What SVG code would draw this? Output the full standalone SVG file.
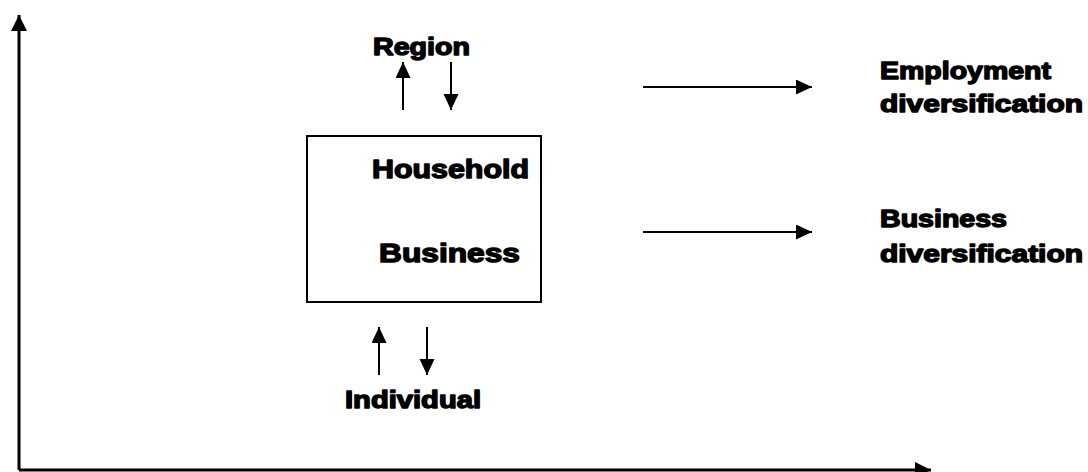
<svg xmlns="http://www.w3.org/2000/svg" width="1088" height="472" viewBox="0 0 1088 472">
  <style>
    .lbl { font-family: "Liberation Sans", Arial, sans-serif; font-weight: bold; fill: #000; stroke: #000; stroke-width: 1.4; stroke-linejoin: round; }
    .side { font-size: 24px; }
    .inner { font-size: 26px; }
    .ln { stroke: #000; stroke-width: 2; fill: none; }
    .axis { stroke: #000; stroke-width: 3; fill: none; }
    .box { fill: #fff; stroke: #000; stroke-width: 2; }
  </style>
  <defs>
    <marker id="head" markerUnits="userSpaceOnUse" markerWidth="18" markerHeight="16" refX="16" refY="7.5" orient="auto">
      <path d="M0,0 L16,7.5 L0,15 Z" fill="#000"/>
    </marker>
    <marker id="axisHead" markerUnits="userSpaceOnUse" markerWidth="18" markerHeight="16" refX="16" refY="8" orient="auto">
      <path d="M0,0 L16,8 L0,16 Z" fill="#000"/>
    </marker>
  </defs>
  <rect width="1088" height="472" fill="#fff"/>

  <g id="connectors">
    <!-- axes -->
    <path class="axis" d="M19,470 L19,15" marker-end="url(#axisHead)"/>
    <path class="axis" d="M19,470 L931,470" marker-end="url(#axisHead)"/>
    <!-- region exchange -->
    <path class="ln" d="M403,110 L403,62" marker-end="url(#head)"/>
    <path class="ln" d="M451,62 L451,110" marker-end="url(#head)"/>
    <!-- individual exchange -->
    <path class="ln" d="M379,375 L379,327" marker-end="url(#head)"/>
    <path class="ln" d="M427,327 L427,375" marker-end="url(#head)"/>
    <!-- outcomes -->
    <path class="ln" d="M643,87 L812,87" marker-end="url(#head)"/>
    <path class="ln" d="M643,232 L812,232" marker-end="url(#head)"/>
  </g>

  <g id="household-business">
    <rect class="box" x="307" y="136" width="234" height="166"/>
    <text class="lbl inner" x="372" y="178" textLength="157" lengthAdjust="spacingAndGlyphs">Household</text>
    <text class="lbl inner" x="379" y="262" textLength="141" lengthAdjust="spacingAndGlyphs">Business</text>
  </g>

  <g id="region">
    <text class="lbl side" x="373" y="55" textLength="97" lengthAdjust="spacingAndGlyphs">Region</text>
  </g>

  <g id="individual">
    <text class="lbl side" x="345" y="408" textLength="136" lengthAdjust="spacingAndGlyphs">Individual</text>
  </g>

  <g id="employment-diversification">
    <text class="lbl side" x="880" y="79" textLength="171" lengthAdjust="spacingAndGlyphs">Employment</text>
    <text class="lbl side" x="880" y="112" textLength="203" lengthAdjust="spacingAndGlyphs">diversification</text>
  </g>

  <g id="business-diversification">
    <text class="lbl side" x="880" y="227" textLength="127" lengthAdjust="spacingAndGlyphs">Business</text>
    <text class="lbl side" x="880" y="262" textLength="203" lengthAdjust="spacingAndGlyphs">diversification</text>
  </g>
</svg>
